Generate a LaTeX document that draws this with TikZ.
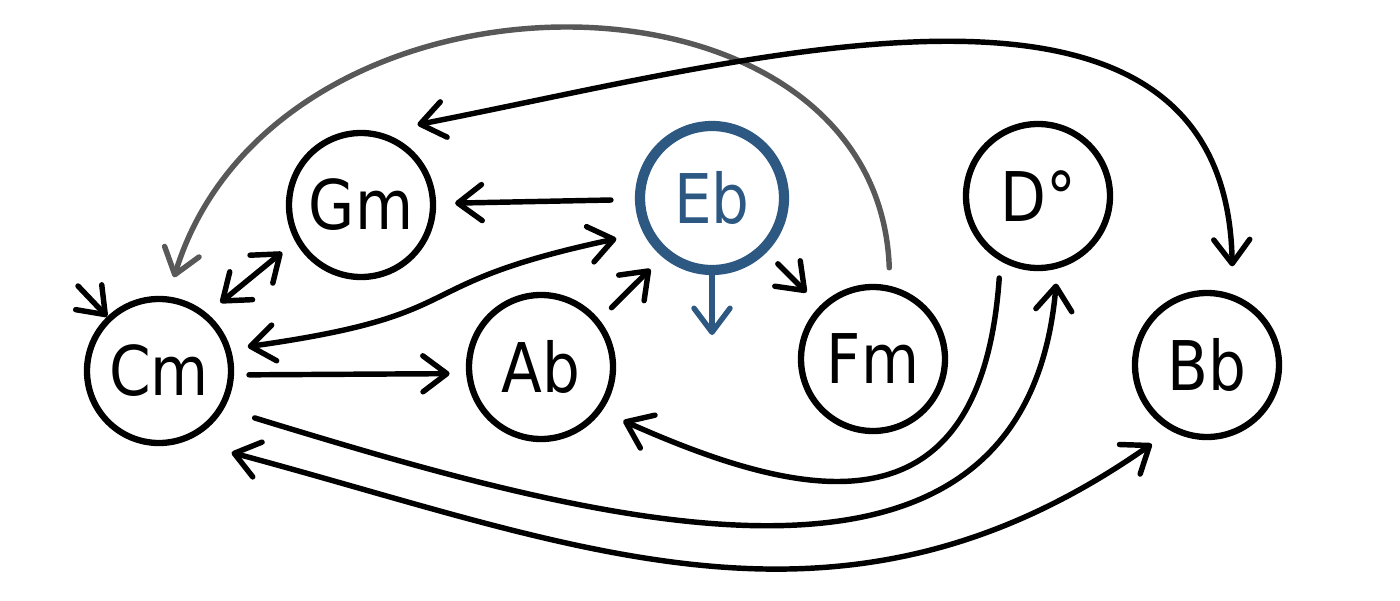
\documentclass[tikz,border=0pt]{standalone}
\usepackage{fontspec}
\setmainfont{DejaVu Sans}[FakeStretch=0.87]
\usetikzlibrary{arrows.meta}

\definecolor{ebblue}{RGB}{44,88,130}
\definecolor{backgray}{RGB}{88,88,88}

\begin{document}
\begin{tikzpicture}[
	chord/.style={circle, draw, line width=1.8pt, minimum size=1.44cm, inner sep=0pt, font=\fontsize{19.5}{22}\selectfont},
	tonic/.style={chord, draw=ebblue, text=ebblue, line width=2.9pt},
	move/.style={line width=1.55pt, line cap=round},
	>={Straight Barb[length=2.4mm,width=3.6mm,round]}
	]
	\useasboundingbox (0,0) rectangle (14,6);

	% chords
	\node[chord] (Cm) at (1.59,2.29) {Cm};
	\node[chord] (Gm) at (3.61,3.95) {Gm};
	\node[tonic] (Eb) at (7.12,4.02) {Eb};
	\node[chord] (Ab) at (5.41,2.33) {Ab};
	\node[chord] (Fm) at (8.73,2.41) {Fm};
	\node[chord] (Do) at (10.38,4.04) {D°};
	\node[chord] (Bb) at (12.07,2.35) {Bb};

	\coordinate (entry) at (0.78,3.14);
	\coordinate (exit) at (7.12,2.65);

	% moves
	\draw[move,->] (entry) -- (Cm);
	\draw[move,<->,shorten <=0.17cm,shorten >=0.17cm] (Cm.50) -- (Gm.209);
	\draw[move,->,shorten <=0.24cm,shorten >=0.19cm] (Eb) -- (Gm);
	\draw[move,<->,shorten <=0.17cm,shorten >=0.275cm] (Cm.17) to[out=8,in=192,looseness=1.5] (Eb.207);
	\draw[move,->,shorten <=0.15cm,shorten >=0.165cm] (Cm.-3) -- (Ab.185);
	\draw[move,->,shorten <=0.17cm,shorten >=0.17cm] (Ab.39) -- (Eb.230);
	\draw[move,->,ebblue] (Eb.south) -- (exit);
	\draw[move,->,shorten <=0.16cm,shorten >=0.19cm] (Eb) -- (Fm);
	\draw[move,->,backgray,shorten <=0.18cm,shorten >=0.2cm] (Fm.77) to[out=92,in=73,out looseness=1.2,in looseness=1.3] (Cm.83);
	\draw[move,<->,shorten <=0.39cm,shorten >=0.28cm] (Gm.76) to[out=11,in=91,looseness=1.1] (Bb.70);
	\draw[move,->,shorten <=0.17cm,shorten >=0.235cm] (Do.240) to[out=266,in=-24,out looseness=1.7,in looseness=1.3] (Ab.-36);
	\draw[move,->,shorten <=0.32cm,shorten >=0.15cm] (Cm.-30) to[out=-17,in=265,looseness=1.15] (Do.-75);
	\draw[move,<->,shorten <=0.46cm,shorten >=0.23cm] (Cm.-68) to[out=-15,in=215,looseness=1.05] (Bb.241);
\end{tikzpicture}
\end{document}
